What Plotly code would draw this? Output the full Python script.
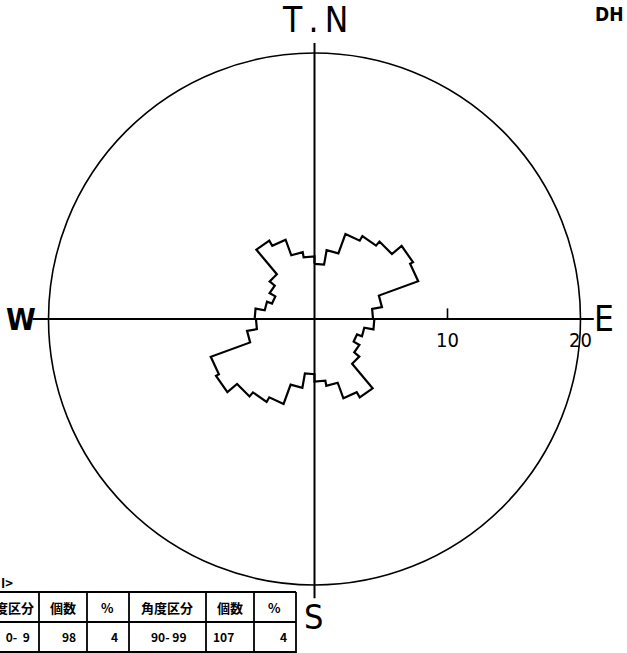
import numpy as np
import plotly.graph_objects as go

# ---------------- data ----------------
# strike classes (degrees from true north, clockwise); the rose is bidirectional
bin_start_deg = [0, 10, 20, 30, 40, 50, 60, 70, 80, 90, 100, 110, 120, 130, 140, 150, 160, 170]
bin_width_deg = 10
percent = [4.15, 5.25, 6.8, 7.2, 7.6, 8.55, 8.3, 5.15, 4.4,
           4.5, 3.8, 3.4, 3.9, 4.4, 6.8, 6.35, 5.1, 4.7]
radial_max = 20
radial_ticks = [10, 20]
radial_tick_labels = ["10", "20"]
compass_labels = {"N": "T\u2009.\u2009N", "E": "E", "S": "S", "W": "W"}
corner_label = "DH"
table_caption = "I>"
table_header = ["角度区分", "個数", "%", "角度区分", "個数", "%"]
table_row = [" 0-  9", "98", "4", "90- 99", "107", "4"]

# ---------------- figure geometry ----------------
W, H = 627, 653
CX, CY = 314.5, 319.0      # pixel position of the rose centre
U = 13.3                   # pixels per percent

def PX(x):
    return x / W

def PY(y):
    return 1 - y / H

# ---------------- rose outline ----------------
starts = np.concatenate([np.array(bin_start_deg), np.array(bin_start_deg) + 180])
vals = np.concatenate([np.array(percent), np.array(percent)])
theta, rad = [], []
for s, v in zip(starts, vals):
    theta += [s, s + bin_width_deg]
    rad += [v, v]
theta.append(theta[0])
rad.append(rad[0])
th = np.radians(theta)
rad = np.array(rad)
xs = rad * np.sin(th)
ys = rad * np.cos(th)

fig = go.Figure()
fig.add_trace(go.Scatter(x=xs, y=ys, mode="lines",
                         line=dict(color="black", width=2.2),
                         hoverinfo="skip", showlegend=False))

BLK = "black"
shapes = []
# outer circle (20 %)
shapes.append(dict(type="circle", xref="x", yref="y", x0=-radial_max, x1=radial_max,
                   y0=-radial_max, y1=radial_max, line=dict(color=BLK, width=1.6)))
# cross-hair
shapes.append(dict(type="line", xref="x", yref="y", x0=-21.2, x1=21.0, y0=0, y1=0,
                   line=dict(color=BLK, width=2)))
shapes.append(dict(type="line", xref="x", yref="y", x0=0, x1=0, y0=-21.0, y1=20.75,
                   line=dict(color=BLK, width=2)))
# tick at 10
shapes.append(dict(type="line", xref="x", yref="y", x0=radial_ticks[0], x1=radial_ticks[0],
                   y0=0, y1=0.8, line=dict(color=BLK, width=1.6)))

ann = []
LBL_FONT = "Liberation Sans Narrow, DejaVu Sans Condensed, Liberation Sans, sans-serif"
for t, lab in zip(radial_ticks, radial_tick_labels):
    ann.append(dict(x=t, y=-1.6, xref="x", yref="y", text=lab, showarrow=False,
                    xanchor="center", yanchor="middle",
                    font=dict(family=LBL_FONT, size=20, color=BLK)))

ann.append(dict(x=0, y=22.5, xref="x", yref="y", text=compass_labels["N"], showarrow=False,
                xanchor="center", yanchor="middle",
                font=dict(family=LBL_FONT, size=35, color=BLK)))
ann.append(dict(x=21.75, y=0, xref="x", yref="y", text=compass_labels["E"], showarrow=False,
                xanchor="center", yanchor="middle",
                font=dict(family=LBL_FONT, size=35, color=BLK)))
ann.append(dict(x=-0.1, y=-22.4, xref="x", yref="y", text=compass_labels["S"], showarrow=False,
                xanchor="center", yanchor="middle",
                font=dict(family=LBL_FONT, size=34, color=BLK)))
ann.append(dict(x=-22.05, y=0, xref="x", yref="y", text=compass_labels["W"], showarrow=False,
                xanchor="center", yanchor="middle",
                font=dict(family=LBL_FONT, size=30, color=BLK, weight="bold")))
ann.append(dict(x=PX(609), y=PY(14), xref="paper", yref="paper", text=corner_label,
                showarrow=False, xanchor="center", yanchor="middle",
                font=dict(family=LBL_FONT, size=19, color=BLK, weight="bold")))

# ---------------- table (cropped at the left edge) ----------------
TF = "Noto Sans CJK JP, sans-serif"
ann.append(dict(x=PX(-1), y=PY(582), xref="paper", yref="paper", text=table_caption,
                showarrow=False, xanchor="left", yanchor="middle",
                font=dict(family=TF, size=13, color=BLK, weight="bold")))
for yy in [592, 622, 652]:
    shapes.append(dict(type="line", xref="paper", yref="paper", x0=PX(-5), x1=PX(296),
                       y0=PY(yy), y1=PY(yy), line=dict(color=BLK, width=1.8)))
for xx in [39, 87, 129, 206, 254, 296]:
    shapes.append(dict(type="line", xref="paper", yref="paper", x0=PX(xx), x1=PX(xx),
                       y0=PY(592), y1=PY(660), line=dict(color=BLK, width=1.8)))

hdr_pos = [(36, "right"), (63, "center"), (107, "center"),
           (167, "center"), (230, "center"), (274, "center")]
for (xx, anc), txt in zip(hdr_pos, table_header):
    ann.append(dict(x=PX(xx), y=PY(607), xref="paper", yref="paper", text=txt,
                    showarrow=False, xanchor=anc, yanchor="middle",
                    font=dict(family=TF, size=13, color=BLK, weight="bold")))
row_pos = [(32, "right"), (78, "right"), (120, "right"),
           (168, "center"), (236, "right"), (289, "right")]
for (xx, anc), txt in zip(row_pos, table_row):
    ann.append(dict(x=PX(xx), y=PY(636), xref="paper", yref="paper", text=txt.replace(" ", "&nbsp;"),
                    showarrow=False, xanchor=anc, yanchor="middle",
                    font=dict(family=TF, size=12, color=BLK, weight="bold")))

fig.update_layout(
    width=W, height=H,
    margin=dict(l=0, r=0, t=0, b=0),
    paper_bgcolor="white", plot_bgcolor="white",
    xaxis=dict(range=[-CX / U, (W - CX) / U], visible=False, showgrid=False,
               zeroline=False, fixedrange=True),
    yaxis=dict(range=[-(H - CY) / U, CY / U], visible=False, showgrid=False,
               zeroline=False, fixedrange=True),
    shapes=shapes, annotations=ann, showlegend=False,
)

fig.write_html("out.html",
               config={"displayModeBar": False, "staticPlot": True},
               post_script="document.body.style.margin='0';document.body.style.overflow='hidden';")
